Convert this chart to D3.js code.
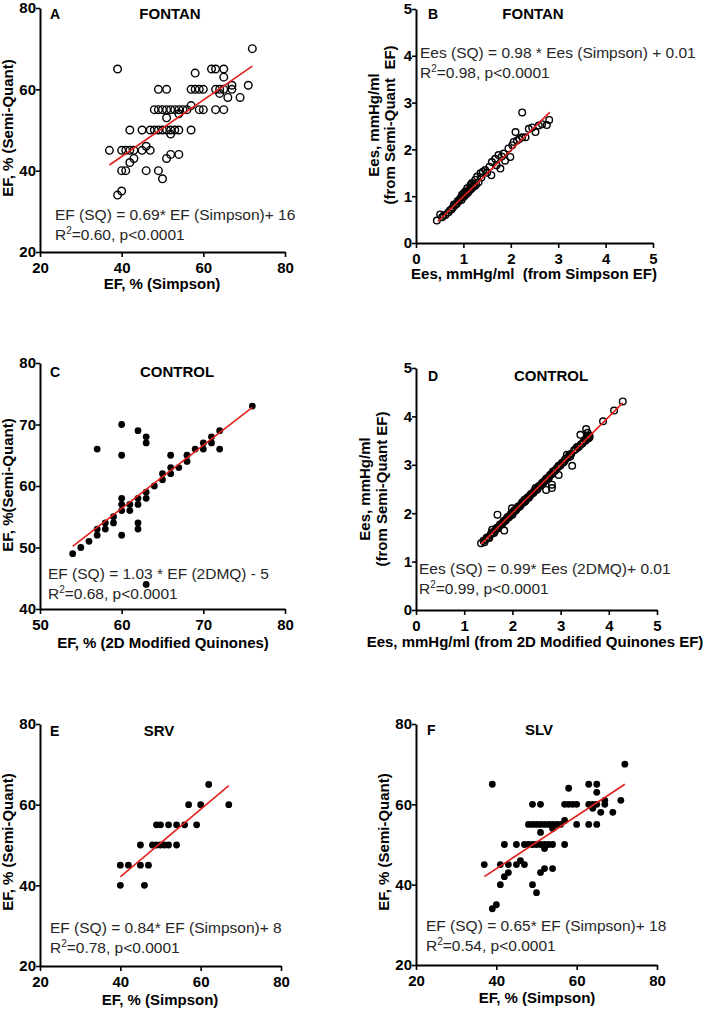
<!DOCTYPE html>
<html>
<head>
<meta charset="utf-8">
<script src="https://cdn.jsdelivr.net/npm/d3@7"></script>
<style>
  body { margin: 0; background: #fff; }
  svg text { font-family: "Liberation Sans", Arial, sans-serif; }
</style>
</head>
<body>
<div id="graph"></div>
<script>
// ---- data: [x, y] pairs ----
var fontanEF = [[39,65],[37,45],[40,45],[41,45],[42,45],[43,45],[42,50],[40,40],[41,40],[39,34],[40,35],
  [42,42],[43,43],[45,50],[45,45],[46,46],[47,45],[46,40],
  [47,50],[48,50],[49,50],[50,50],[51,50],[52,50],[53,50],[54,50],[57,50],
  [48,55],[49,55],[50,55],[51,55],[52,55],[53,55],[54,55],[55,55],[56,55],[59,55],[60,55],[63,55],[65,55],
  [57,56],[51,53],[52,49],[51,43],[52,44],[54,44],[49,60],[51,60],[49,40],[50,38],[54,54],
  [57,60],[58,60],[59,60],[60,60],[63,60],[64,60],[65,60],[67,60],
  [58,64],[62,65],[63,65],[65,65],[65,63],[64,59],[66,58],[67,61],[69,58],[71,61],[72,70]];

var fontanEes = [[0.44,0.48],[0.51,0.61],[0.55,0.55],[0.58,0.58],[0.62,0.6],[0.68,0.65],[0.72,0.7],[0.75,0.72],
  [0.78,0.76],[0.83,0.81],[0.86,0.84],[0.9,0.89],[0.92,0.93],[0.94,0.96],[0.96,0.92],[0.97,1.03],[0.99,0.98],
  [1.01,1.07],[1.02,1.0],[1.04,1.1],[1.06,1.04],[1.08,1.17],[1.1,1.08],[1.12,1.14],[1.15,1.24],[1.17,1.16],
  [1.18,1.28],[1.21,1.2],[1.25,1.35],[1.27,1.25],[1.29,1.42],[1.32,1.3],[1.36,1.49],[1.38,1.4],[1.41,1.52],
  [1.46,1.56],[1.5,1.5],[1.55,1.63],[1.59,1.45],[1.6,1.73],[1.67,1.8],[1.7,1.66],[1.74,1.88],[1.78,1.59],
  [1.81,1.85],[1.85,1.91],[1.88,1.76],[1.95,2.02],[1.99,1.84],[2.03,2.09],[2.06,2.16],[2.1,2.37],[2.13,2.19],
  [2.18,2.22],[2.24,2.79],[2.24,2.26],[2.31,2.26],[2.38,2.44],[2.45,2.47],[2.52,2.37],[2.59,2.51],[2.66,2.54],
  [2.76,2.52],[2.81,2.63],[0.8,0.82],[0.88,0.9],[1.0,1.02],[1.05,1.08],[1.13,1.12],[1.2,1.23],[1.24,1.22]];

var controlEF = [[54,49],[55,50],[56,51],[57,52],[57,53],[57,66],[58,53],[58,54],[59,54],[59,55],[60,52],[60,56],
  [60,57],[60,58],[60,65],[60,70],[61,56],[61,57],[62,53],[62,54],[62,57],[62,58],[62,69],[63,58],[63,59],
  [63,67],[63,68],[63,44],[64,60],[65,61],[65,62],[66,62],[66,63],[66,65],[67,63],[68,64],[68,65],[69,66],
  [70,66],[70,67],[71,67],[71,68],[72,69],[72,66],[76,73]];

var controlEes = [[1.35,1.38],[1.4,1.43],[1.58,1.66],[1.69,1.97],[1.83,1.64],[1.99,2.1],[2.48,2.52],[2.7,2.48],
  [2.82,2.59],[2.82,2.52],[2.96,2.79],[2.96,2.98],[3.24,2.98],[3.13,3.21],[3.2,3.17],[3.34,3.37],[3.41,3.62],
  [3.53,3.74],[3.56,3.66],[3.58,3.55],[3.6,3.6],[3.88,3.9],[4.11,4.12],[4.29,4.31],
  [1.45,1.46],[1.5,1.5],[1.55,1.56],[1.6,1.6],[1.64,1.63],[1.68,1.7],[1.72,1.72],[1.76,1.77],[1.8,1.8],
  [1.84,1.84],[1.88,1.89],[1.92,1.91],[1.96,1.97],[2.02,2.02],[2.06,2.05],[2.1,2.11],[2.14,2.13],[2.18,2.18],
  [2.22,2.22],[2.25,2.28],[2.28,2.27],[2.32,2.33],[2.36,2.35],[2.4,2.4],[2.44,2.43],[2.52,2.5],[2.56,2.56],
  [2.6,2.6],[2.64,2.63],[2.68,2.68],[2.72,2.72],[2.76,2.74],[2.8,2.8],[2.86,2.86],[2.9,2.9],[3.0,2.99],
  [3.06,3.05],[3.1,3.12],[3.18,3.2],[3.28,3.3],[3.38,3.38],[3.45,3.44],[3.52,3.5],[3.56,3.58],
  [1.42,1.4],[1.47,1.5],[1.52,1.49],[1.57,1.6],[1.62,1.59],[1.66,1.68],[1.7,1.69],[1.74,1.76],[1.78,1.77],
  [1.82,1.84],[1.86,1.85],[1.9,1.92],[1.94,1.93],[1.98,2.0],[2.0,1.97],[2.04,2.06],[2.08,2.07],[2.12,2.14],
  [2.16,2.15],[2.2,2.22],[2.24,2.23],[2.26,2.24],[2.3,2.31],[2.34,2.32],[2.38,2.39],[2.42,2.41],[2.46,2.47],
  [2.5,2.48],[2.54,2.55],[2.58,2.57],[2.62,2.63],[2.66,2.65],[2.7,2.71],[2.74,2.73],[2.78,2.79],[2.82,2.81],
  [2.84,2.86],[2.88,2.87],[2.93,2.94],[2.97,2.97],[3.03,3.04],[3.08,3.08],[3.15,3.15],[3.22,3.23],[3.31,3.32],
  [3.36,3.36],[3.42,3.42],[3.48,3.48],[3.55,3.54],[3.6,3.57]];

var srvEF = [[40,40],[46,40],[40,45],[42,45],[45,45],[47,45],[45,50],[48,50],[49,50],[50,50],[51,50],[52,50],
  [54,50],[49,55],[50,55],[52,55],[54,55],[56,55],[59,55],[57,60],[60,60],[67,60],[62,65]];

var slvEF = [[39,65],[37,45],[41,45],[43,45],[42,50],[41,40],[39,34],[40,35],[42,42],[43,43],[45,50],[45,45],
  [46,46],[47,45],[47,50],[48,50],[49,50],[50,50],[51,50],[52,50],[53,50],[54,50],[57,50],
  [48,55],[49,55],[50,55],[51,55],[52,55],[53,55],[54,55],[55,55],[56,55],[60,55],[63,55],[65,55],
  [57,56],[51,53],[52,49],[51,43],[52,44],[54,44],[49,60],[51,60],[49,40],[50,38],[54,54],
  [57,60],[58,60],[59,60],[60,60],[63,60],[64,60],[65,60],[67,60],
  [58,64],[63,65],[65,65],[65,63],[64,59],[66,58],[67,61],[69,58],[71,61],[72,70]];

// regression line end points [[x0,y0],[x1,y1]]
var fitA = [[37,41.4],[72,65.7]];
var fitB = [[0.46,0.46],[2.82,2.79]];
var fitC = [[54,50.2],[76,72.8]];
var fitD = [[1.35,1.36],[4.29,4.28]];
var fitE = [[40,42.1],[67,64.7]];
var fitF = [[37,42],[72,65]];

var efTicks = [20,40,60,80];
var ctrlXTicks = [50,60,70,80];
var ctrlYTicks = [40,50,60,70,80];
var eesTicks = [0,1,2,3,4,5];

var panels = [
  {letter:"A", title:"FONTAN", data:fontanEF, fit:fitA, open:true, r:3.8,
   xDom:[20,80], yDom:[20,80], xTicks:efTicks, yTicks:efTicks, xr:[40,285], yr:[252,8],
   xLabel:"EF, % (Simpson)", xLab:[162,289], yLabel:["EF, % (Semi-Quant)"], yLabX:[13], yLabY:128,
   eq:"EF (SQ) = 0.69* EF (Simpson)+ 16", r2:"=0.60, p<0.0001", eqPos:[55,220], titleX:170, titleY:19, letterX:50},
  {letter:"B", title:"FONTAN", data:fontanEes, fit:fitB, open:true, r:3.3,
   xDom:[0,5], yDom:[0,5], xTicks:eesTicks, yTicks:eesTicks, xr:[416,653], yr:[243,9],
   xLabel:"Ees, mmHg/ml  (from Simpson EF)", xLab:[534,279], yLabel:["Ees, mmHg/ml","(from Semi-Quant  EF)"], yLabX:[379,395], yLabY:125,
   eq:"Ees (SQ) = 0.98 * Ees (Simpson) + 0.01", r2:"=0.98, p<0.0001", eqPos:[420,58], titleX:533, titleY:19, letterX:428},
  {letter:"C", title:"CONTROL", data:controlEF, fit:fitC, open:false, r:3.4,
   xDom:[50,80], yDom:[40,80], xTicks:ctrlXTicks, yTicks:ctrlYTicks, xr:[40,285], yr:[609,363],
   xLabel:"EF, % (2D Modified Quinones)", xLab:[163,648], yLabel:["EF, %(Semi-Quant)"], yLabX:[13], yLabY:485,
   eq:"EF (SQ) = 1.03 * EF (2DMQ) - 5", r2:"=0.68, p<0.0001", eqPos:[48,579], titleX:177, titleY:377, letterX:50},
  {letter:"D", title:"CONTROL", data:controlEes, fit:fitD, open:true, r:3.3,
   xDom:[0,5], yDom:[0,5], xTicks:eesTicks, yTicks:eesTicks, xr:[416,657], yr:[610,368],
   xLabel:"Ees, mmHg/ml (from 2D Modified Quinones EF)", xLab:[535,647], yLabel:["Ees, mmHg/ml","(from Semi-Quant EF)"], yLabX:[370,387], yLabY:489,
   eq:"Ees (SQ) = 0.99* Ees (2DMQ)+ 0.01", r2:"=0.99, p<0.0001", eqPos:[419,574], titleX:551, titleY:381, letterX:428},
  {letter:"E", title:"SRV", data:srvEF, fit:fitE, open:false, r:3.4,
   xDom:[20,80], yDom:[20,80], xTicks:efTicks, yTicks:efTicks, xr:[40,281], yr:[966,724],
   xLabel:"EF, % (Simpson)", xLab:[160,1005], yLabel:["EF, % (Semi-Quant)"], yLabX:[13], yLabY:842,
   eq:"EF (SQ) = 0.84* EF (Simpson)+ 8", r2:"=0.78, p<0.0001", eqPos:[50,933], titleX:159, titleY:736, letterX:50},
  {letter:"F", title:"SLV", data:slvEF, fit:fitF, open:false, r:3.4,
   xDom:[20,80], yDom:[20,80], xTicks:efTicks, yTicks:efTicks, xr:[416,657], yr:[965,724],
   xLabel:"EF, % (Simpson)", xLab:[537,1003], yLabel:["EF, % (Semi-Quant)"], yLabX:[389], yLabY:842,
   eq:"EF (SQ) = 0.65* EF (Simpson)+ 18", r2:"=0.54, p<0.0001", eqPos:[426,931], titleX:539, titleY:735, letterX:427}
];

var width = 709, height = 1009;
var chart = d3.select("#graph").append("svg")
    .attr("width", width)
    .attr("height", height);

panels.forEach(function(p) {
  var xScale = d3.scaleLinear().domain(p.xDom).range(p.xr);
  var yScale = d3.scaleLinear().domain(p.yDom).range(p.yr);
  var g = chart.append("g");

  // points
  g.selectAll("circle")
    .data(p.data)
    .enter()
    .append("circle")
    .attr("cx", function(d) { return xScale(d[0]); })
    .attr("cy", function(d) { return yScale(d[1]); })
    .attr("r", p.r)
    .attr("fill", p.open ? "none" : "#000")
    .attr("stroke", "#000")
    .attr("stroke-width", p.open ? 1.4 : 0);

  // regression line
  g.append("line")
    .attr("x1", xScale(p.fit[0][0])).attr("y1", yScale(p.fit[0][1]))
    .attr("x2", xScale(p.fit[1][0])).attr("y2", yScale(p.fit[1][1]))
    .attr("stroke", "#e3201b")
    .attr("stroke-width", 1.6);

  // axes
  var fmt = d3.format("d");
  var xAxis = g.append("g")
    .attr("transform", "translate(0," + p.yr[0] + ")")
    .call(d3.axisBottom(xScale).tickValues(p.xTicks).tickFormat(fmt).tickSize(5).tickSizeOuter(0).tickPadding(5));
  var yAxis = g.append("g")
    .attr("transform", "translate(" + p.xr[0] + ",0)")
    .call(d3.axisLeft(yScale).tickValues(p.yTicks).tickFormat(fmt).tickSize(4).tickSizeOuter(0).tickPadding(0));
  [xAxis, yAxis].forEach(function(ax) {
    ax.select(".domain").attr("stroke", "#000").attr("stroke-width", 2);
    ax.selectAll(".tick line").attr("stroke", "#000").attr("stroke-width", 1.6);
    ax.selectAll(".tick text")
      .attr("fill", "#000")
      .style("font-family", "'Liberation Sans', Arial, sans-serif")
      .style("font-size", "15px")
      .style("font-weight", "bold");
  });

  // panel letter and title
  g.append("text")
    .attr("x", p.letterX).attr("y", p.titleY)
    .attr("font-size", "14px").attr("font-weight", "bold")
    .text(p.letter);
  g.append("text")
    .attr("x", p.titleX).attr("y", p.titleY)
    .attr("text-anchor", "middle")
    .attr("font-size", "15px").attr("font-weight", "bold")
    .text(p.title);

  // axis labels
  g.append("text")
    .attr("x", p.xLab[0]).attr("y", p.xLab[1])
    .attr("text-anchor", "middle")
    .attr("font-size", "15px").attr("font-weight", "bold")
    .style("white-space", "pre")
    .text(p.xLabel);
  p.yLabel.forEach(function(t, i) {
    g.append("text")
      .attr("transform", "translate(" + p.yLabX[i] + "," + p.yLabY + ") rotate(-90)")
      .attr("text-anchor", "middle")
      .attr("font-size", "15px").attr("font-weight", "bold")
      .style("white-space", "pre")
      .text(t);
  });

  // regression equation
  g.append("text")
    .attr("x", p.eqPos[0]).attr("y", p.eqPos[1])
    .attr("font-size", "15.5px").attr("fill", "#262626")
    .text(p.eq);
  var r2 = g.append("text")
    .attr("x", p.eqPos[0]).attr("y", p.eqPos[1] + 20)
    .attr("font-size", "15.5px").attr("fill", "#262626");
  r2.append("tspan").text("R");
  r2.append("tspan").attr("dy", -6).attr("font-size", "10px").text("2");
  r2.append("tspan").attr("dy", 6).text(p.r2);
});
</script>
</body>
</html>
